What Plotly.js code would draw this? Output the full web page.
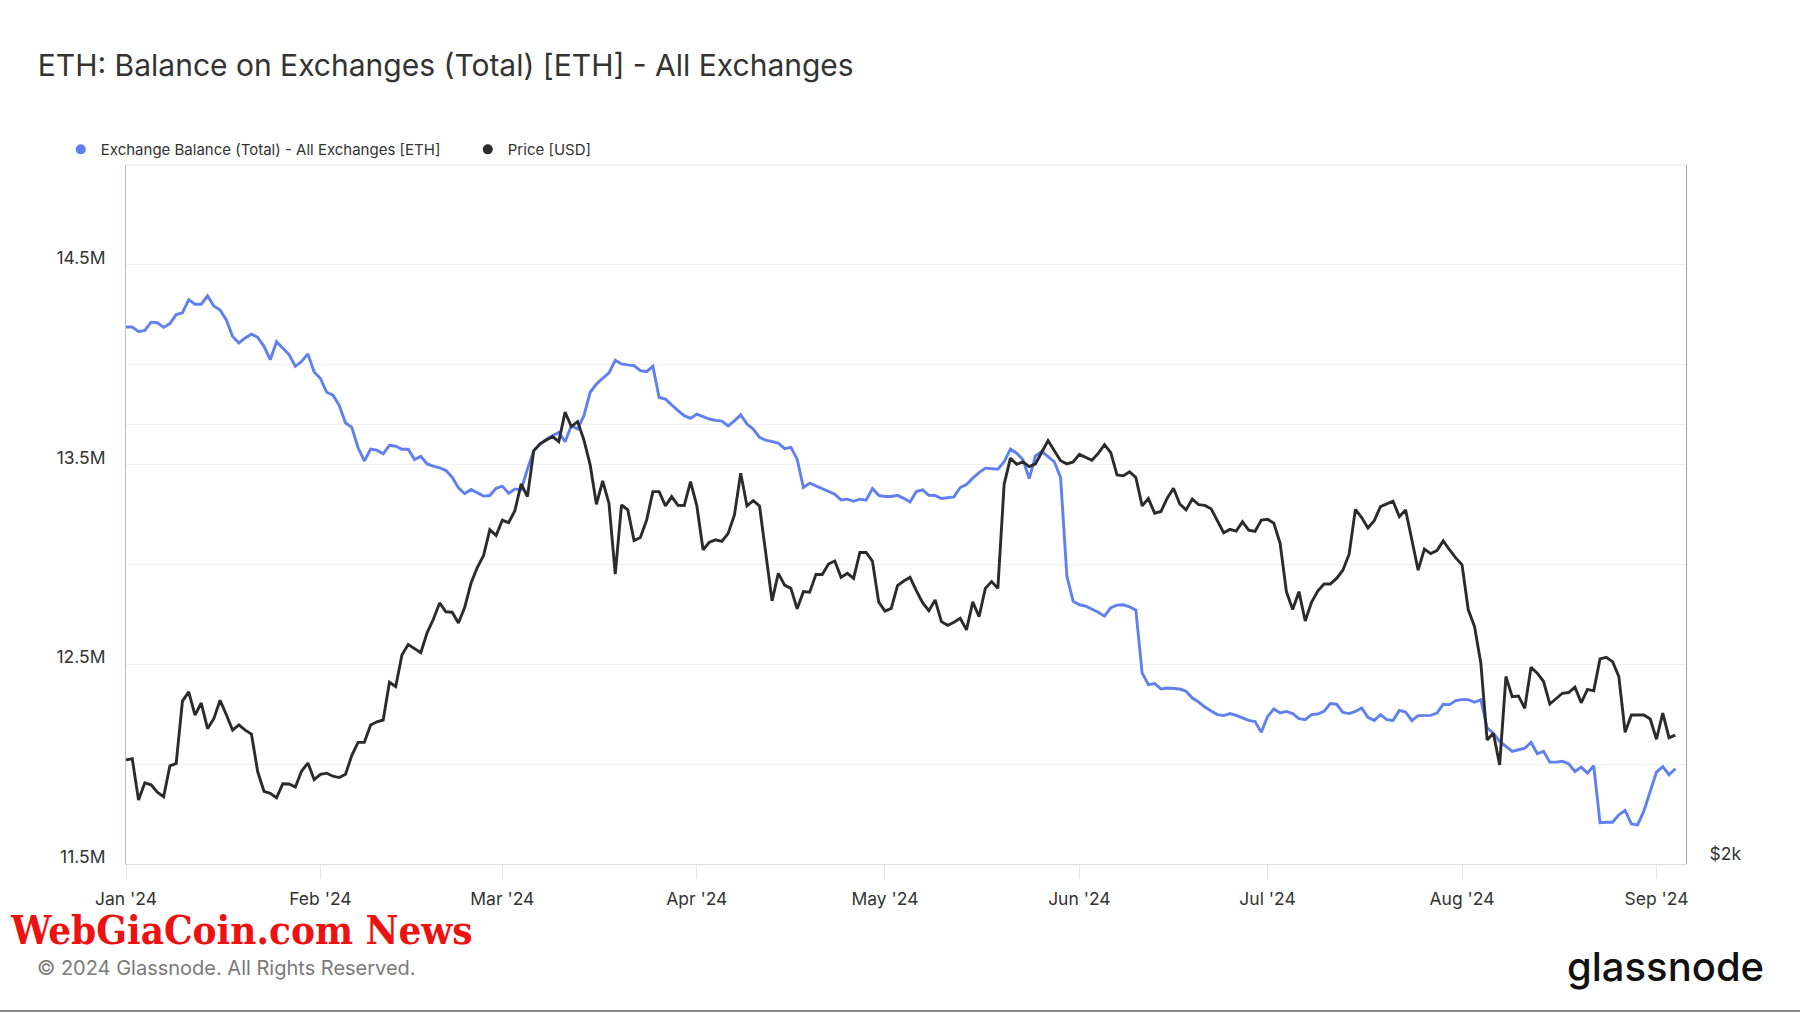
<!DOCTYPE html>
<html>
<head>
<meta charset="utf-8">
<script src="https://cdn.plot.ly/plotly-3.0.1.min.js"></script>
<style>
  html, body { margin: 0; padding: 0; background: #fff; }
  #chart { width: 1800px; height: 1013px; }
</style>
</head>
<body>
<div id="chart"></div>
<script>
// daily values from 2024-01-01, one per day
var startDay = '2024-01-01';

// exchange balance, millions of ETH
var balanceM = [
  14.189, 14.189, 14.166, 14.172, 14.213, 14.210, 14.187, 14.206, 14.251, 14.260,
  14.326, 14.303, 14.303, 14.345, 14.294, 14.274, 14.224, 14.141, 14.109, 14.134,
  14.153, 14.137, 14.092, 14.025, 14.115, 14.085, 14.051, 13.992, 14.016, 14.054,
  13.964, 13.931, 13.862, 13.848, 13.796, 13.708, 13.686, 13.584, 13.518, 13.577,
  13.572, 13.554, 13.596, 13.592, 13.577, 13.577, 13.525, 13.541, 13.503, 13.492,
  13.484, 13.470, 13.437, 13.383, 13.354, 13.375, 13.359, 13.342, 13.345, 13.381,
  13.392, 13.356, 13.378, 13.373, 13.477, 13.569, 13.602, 13.627, 13.644, 13.661,
  13.614, 13.694, 13.678, 13.745, 13.862, 13.903, 13.932, 13.959, 14.022, 14.004,
  13.999, 13.995, 13.970, 13.965, 13.992, 13.836, 13.828, 13.798, 13.770, 13.745,
  13.731, 13.753, 13.740, 13.728, 13.721, 13.718, 13.694, 13.719, 13.749, 13.703,
  13.678, 13.636, 13.622, 13.616, 13.607, 13.580, 13.586, 13.527, 13.385, 13.407,
  13.393, 13.380, 13.365, 13.352, 13.323, 13.327, 13.316, 13.327, 13.322, 13.380,
  13.346, 13.340, 13.340, 13.346, 13.331, 13.313, 13.365, 13.373, 13.346, 13.345,
  13.330, 13.333, 13.338, 13.385, 13.400, 13.432, 13.460, 13.482, 13.479, 13.477,
  13.514, 13.577, 13.557, 13.524, 13.430, 13.544, 13.566, 13.541, 13.514, 13.435,
  12.942, 12.816, 12.798, 12.791, 12.778, 12.761, 12.741, 12.783, 12.796, 12.798,
  12.788, 12.771, 12.457, 12.398, 12.403, 12.376, 12.381, 12.380, 12.376, 12.365,
  12.331, 12.311, 12.286, 12.266, 12.248, 12.243, 12.253, 12.244, 12.233, 12.219,
  12.213, 12.160, 12.239, 12.276, 12.256, 12.264, 12.253, 12.228, 12.223, 12.248,
  12.251, 12.264, 12.303, 12.300, 12.259, 12.253, 12.264, 12.281, 12.234, 12.219,
  12.248, 12.223, 12.219, 12.269, 12.261, 12.218, 12.243, 12.243, 12.244, 12.256,
  12.300, 12.298, 12.318, 12.323, 12.323, 12.310, 12.323, 12.181, 12.155, 12.114,
  12.089, 12.064, 12.072, 12.080, 12.109, 12.052, 12.064, 12.010, 12.010, 12.014,
  12.002, 11.963, 11.985, 11.955, 11.992, 11.707, 11.709, 11.709, 11.746, 11.768,
  11.701, 11.696, 11.766, 11.863, 11.960, 11.988, 11.947, 11.977
];

// ETH price, USD
var priceUsd = [
  2357, 2361, 2212, 2273, 2266, 2240, 2224, 2335, 2344, 2586,
  2624, 2529, 2578, 2476, 2515, 2589, 2531, 2470, 2491, 2470,
  2455, 2313, 2243, 2236, 2220, 2270, 2269, 2258, 2316, 2345,
  2285, 2304, 2308, 2297, 2292, 2304, 2374, 2423, 2423, 2490,
  2503, 2510, 2664, 2646, 2782, 2827, 2809, 2791, 2880, 2942,
  3019, 2977, 2975, 2925, 2998, 3114, 3192, 3253, 3388, 3358,
  3440, 3426, 3492, 3642, 3570, 3837, 3880, 3900, 3925, 3894,
  4079, 3987, 4018, 3904, 3753, 3527, 3659, 3532, 3159, 3523,
  3496, 3331, 3347, 3440, 3598, 3598, 3518, 3570, 3521, 3520,
  3655, 3520, 3283, 3322, 3335, 3327, 3369, 3468, 3704, 3518,
  3547, 3518, 3266, 3029, 3163, 3105, 3089, 2991, 3073, 3070,
  3158, 3157, 3210, 3225, 3143, 3163, 3138, 3269, 3269, 3225,
  3024, 2980, 2993, 3102, 3125, 3143, 3078, 3020, 2982, 3033,
  2931, 2914, 2928, 2947, 2893, 3024, 2954, 3089, 3122, 3089,
  3640, 3793, 3757, 3771, 3743, 3759, 3829, 3900, 3838, 3778,
  3759, 3771, 3816, 3796, 3781, 3822, 3875, 3826, 3694, 3689,
  3712, 3679, 3518, 3559, 3478, 3487, 3561, 3617, 3529, 3496,
  3557, 3525, 3521, 3502, 3440, 3372, 3390, 3381, 3431, 3386,
  3379, 3440, 3445, 3423, 3317, 3073, 2988, 3073, 2934, 3022,
  3076, 3110, 3110, 3138, 3179, 3260, 3499, 3454, 3398, 3437,
  3514, 3531, 3545, 3459, 3496, 3335, 3179, 3286, 3263, 3279,
  3329, 3283, 3241, 3206, 2986, 2908, 2745, 2432, 2458, 2338,
  2688, 2604, 2607, 2557, 2728, 2702, 2667, 2574, 2597, 2618,
  2621, 2643, 2579, 2634, 2628, 2764, 2771, 2752, 2688, 2462,
  2530, 2530, 2530, 2514, 2435, 2537, 2441, 2451
];

var balanceTicks = [11.5e6, 12e6, 12.5e6, 13e6, 13.5e6, 14e6, 14.5e6, 15e6];
var balanceTickText = ['11.5M', '', '12.5M', '', '13.5M', '', '14.5M', ''];
var priceTicks = [2000, 4000];
var priceTickText = ['$2k', ''];

var dates = [];
var t0 = new Date(startDay + 'T00:00:00Z');
for (var i = 0; i < balanceM.length; i++) {
  var d = new Date(t0.getTime() + i * 86400000);
  dates.push(d.toISOString().slice(0, 10));
}
var balance = balanceM.map(function (v) { return v * 1e6; });

var blue = '#5f80ee';
var dark = '#2b2b2b';
var font = 'Inter, "Noto Sans", sans-serif';

var balanceLine = { x: dates, y: balance, type: 'scatter', mode: 'lines', yaxis: 'y',
  line: { color: blue, width: 2.9 }, showlegend: false, hoverinfo: 'skip' };
var priceLine = { x: dates, y: priceUsd, type: 'scatter', mode: 'lines', yaxis: 'y2',
  line: { color: dark, width: 2.9 }, showlegend: false, hoverinfo: 'skip' };

// legend keys (dots, like the source)
var balanceKey = { x: [null], y: [null], type: 'scatter', mode: 'markers',
  name: 'Exchange Balance (Total) - All Exchanges [ETH]',
  marker: { color: blue, size: 10 } };
var priceKey = { x: [null], y: [null], type: 'scatter', mode: 'markers', yaxis: 'y2',
  name: 'Price [USD]', marker: { color: dark, size: 10 } };

var layout = {
  width: 1800, height: 1013,
  margin: { l: 126, r: 114, t: 165, b: 149 },
  paper_bgcolor: '#fff', plot_bgcolor: '#fff',
  font: { family: font, color: '#333', size: 17 },
  title: {
    text: 'ETH: Balance on Exchanges (Total) [ETH] - All Exchanges',
    xref: 'container', yref: 'container', x: 0.021, xanchor: 'left',
    y: 1 - 65 / 1013, yanchor: 'middle',
    font: { family: font, size: 30, color: '#333' }
  },
  showlegend: true,
  legend: {
    orientation: 'h', x: -0.0418, xanchor: 'left', y: 1.022, yanchor: 'middle',
    bgcolor: 'rgba(0,0,0,0)',
    font: { family: font, size: 15, color: '#333' },
    entrywidth: 362, entrywidthmode: 'pixels', itemwidth: 30
  },
  xaxis: {
    type: 'date', range: ['2024-01-01', '2024-09-05 17:00'],
    tick0: '2024-01-01', dtick: 'M1', tickformat: "%b '%y",
    showgrid: false, zeroline: false,
    showline: true, linecolor: '#dcdcdc', linewidth: 1,
    ticks: 'outside', ticklen: 14, tickcolor: '#e6e6e6', tickwidth: 1,
    ticklabelstandoff: 5,
    tickfont: { family: font, size: 17.5, color: '#333' }
  },
  yaxis: {
    range: [11.5e6, 15e6], tickvals: balanceTicks, ticktext: balanceTickText,
    showgrid: true, gridcolor: '#f0f0f0', gridwidth: 1, zeroline: false,
    showline: true, linecolor: '#aebcf6', linewidth: 1,
    ticks: '', ticklabelstandoff: 16, ticklabelshift: -7,
    tickfont: { family: font, size: 17.5, color: '#333' }
  },
  yaxis2: {
    type: 'log', overlaying: 'y', side: 'right',
    range: [Math.log10(2000), Math.log10(2000) + 699 / 1460],
    tickvals: priceTicks, ticktext: priceTickText,
    showgrid: true, gridcolor: '#f0f0f0', gridwidth: 1, zeroline: false,
    showline: true, linecolor: '#a0a0a0', linewidth: 1,
    ticks: '', ticklabelstandoff: 19, ticklabelshift: -10,
    tickfont: { family: font, size: 17.5, color: '#333' }
  },
  shapes: [
    { type: 'line', xref: 'paper', yref: 'paper', x0: 0, x1: 1, y0: 1, y1: 1,
      line: { color: '#e6e6e6', width: 1 } },
    { type: 'line', xref: 'paper', yref: 'paper', x0: -0.09, x1: 1.08, y0: -0.2103, y1: -0.2103,
      line: { color: '#8a8a8a', width: 2 } }
  ],
  annotations: [
    { xref: 'paper', yref: 'paper', x: (8 - 126) / 1560, xanchor: 'left',
      y: (864 - 929) / 699, yanchor: 'middle', showarrow: false,
      text: 'WebGiaCoin.com News',
      font: { family: '"DejaVu Serif Condensed", "DejaVu Serif", serif', size: 40, color: '#ee1111', weight: 900 } },
    { xref: 'paper', yref: 'paper', x: (35 - 126) / 1560, xanchor: 'left',
      y: (864 - 968) / 699, yanchor: 'middle', showarrow: false,
      text: '© 2024 Glassnode. All Rights Reserved.',
      font: { family: font, size: 20, color: '#7a7a7a' } },
    { xref: 'paper', yref: 'paper', x: (1766 - 126) / 1560, xanchor: 'right',
      y: (864 - 966) / 699, yanchor: 'middle', showarrow: false,
      text: 'glassnode',
      font: { family: font, size: 40, color: '#111', weight: 500 } }
  ]
};

Plotly.newPlot('chart', [balanceLine, priceLine, balanceKey, priceKey], layout,
  { displayModeBar: false, staticPlot: true });
</script>
</body>
</html>
